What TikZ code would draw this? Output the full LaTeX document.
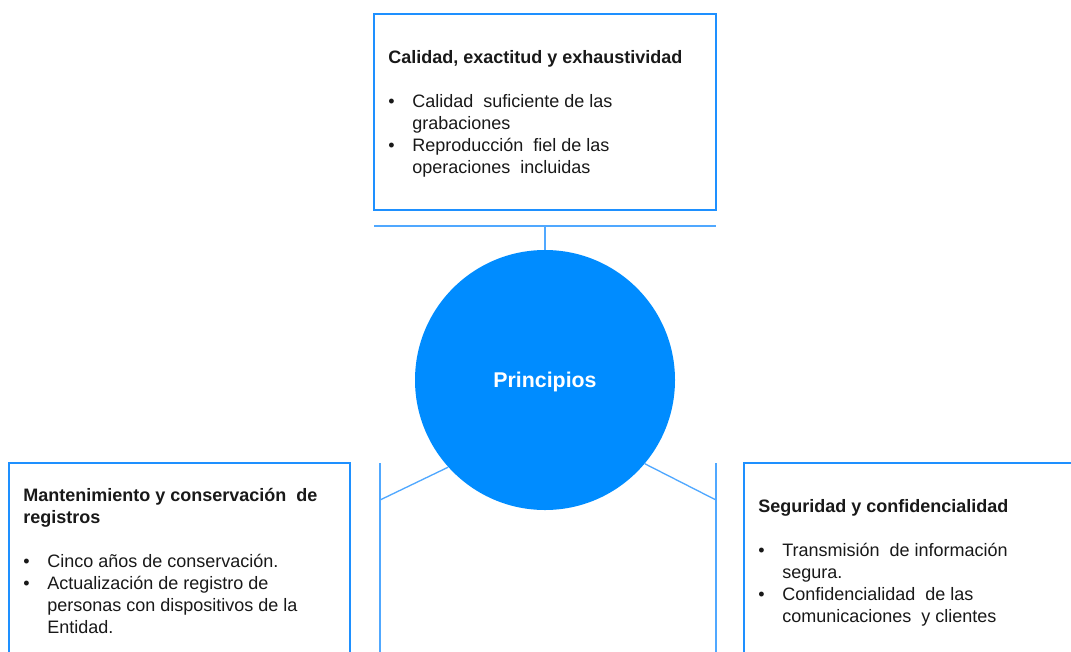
\documentclass[tikz,border=0pt]{standalone}
\usepackage{fontspec}
\setmainfont{Liberation Sans}
\definecolor{boxblue}{RGB}{30,144,255}
\definecolor{lineblue}{RGB}{80,168,255}
\definecolor{circblue}{RGB}{0,140,255}
\definecolor{txt}{RGB}{25,25,25}
\newcommand{\bul}{\makebox[18pt][l]{\textbullet}}
\newcommand{\ind}{\hspace*{18pt}}

\begin{document}
\begin{tikzpicture}[x=0.75pt,y=-0.75pt,
    box/.style={draw=boxblue,line width=1.2pt,fill=white,inner sep=0pt},
    link/.style={draw=lineblue,line width=1pt},
    body/.style={anchor=north west,inner sep=0pt,align=left,text=txt,font=\fontsize{13.5}{16.5}\selectfont}]
    \useasboundingbox (0,0) rectangle (1071,651);
    \clip (0,0) rectangle (1071,651);

    %Draw boxes
    \node[box,minimum width=256.5pt,minimum height=147pt] (qual) at (545,112) {};
    \node[box,minimum width=255.75pt,minimum height=165pt] (keep) at (179.5,573) {};
    \node[box,minimum width=256.5pt,minimum height=165pt] (safe) at (915,573) {};

    %Box texts
    \node[body] (qualtxt) at (388,50) {{\bfseries Calidad, exactitud y exhaustividad}\\[16.5pt]
        \bul Calidad \ suficiente de las\\
        \ind grabaciones\\
        \bul Reproducción \ fiel de las\\
        \ind operaciones \ incluidas};
    \node[body] (keeptxt) at (23,488) {{\bfseries Mantenimiento y conservación \ de}\\
        {\bfseries registros}\\[16.5pt]
        \bul Cinco años de conservación.\\
        \bul Actualización de registro de\\
        \ind personas con dispositivos de la\\
        \ind Entidad.};
    \node[body] (safetxt) at (758,499) {{\bfseries Seguridad y confidencialidad}\\[16.5pt]
        \bul Transmisión \ de información\\
        \ind segura.\\
        \bul Confidencialidad \ de las\\
        \ind comunicaciones \ y clientes};

    %Center circle
    \node[circle,fill=circblue,minimum size=195pt,inner sep=0pt,text=white,text depth=0pt,
        font=\bfseries\fontsize{16}{19}\selectfont] (core) at (545,380) {Principios};

    %Top bar
    \coordinate (barL) at (374,226);
    \coordinate (barR) at (716,226);
    \coordinate (barM) at (545,226);
    \draw[link] (barL) -- (barR);
    \draw[link] (barM) -- (core.north);

    %Side legs
    \coordinate (legL) at (380,463);
    \coordinate (footL) at (380,660);
    \coordinate (kneeL) at (380,500);
    \draw[link] (legL) -- (footL);
    \draw[link] (kneeL) -- (core.222);

    \coordinate (legR) at (716,463);
    \coordinate (footR) at (716,660);
    \coordinate (kneeR) at (716,500);
    \draw[link] (legR) -- (footR);
    \draw[link] (kneeR) -- (core.320);

\end{tikzpicture}
\end{document}
